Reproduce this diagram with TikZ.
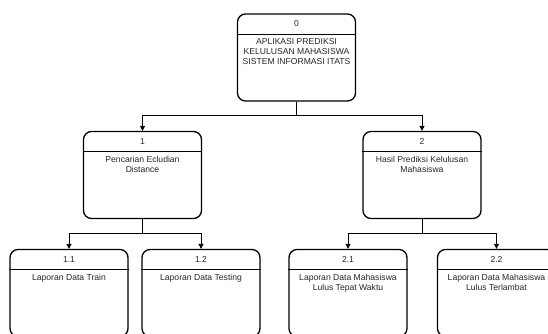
\documentclass[tikz,border=0pt]{standalone}
\usepackage{fontspec}
\setmainfont{Liberation Sans}
\usetikzlibrary{arrows.meta}
\tikzset{
  procbox/.style={draw=black, line width=1.3pt, rounded corners=8pt, minimum width=118pt, minimum height=87pt, inner sep=0pt},
  hdrtext/.style={font=\fontsize{8.6pt}{9.8pt}\selectfont, text=black!85, inner sep=0pt},
  bodytext/.style={font=\fontsize{8.6pt}{9.8pt}\selectfont, text=black!85, align=center, inner sep=0pt, anchor=north},
  conn/.style={draw=black, line width=0.8pt, -{Triangle[length=5pt,width=5pt]}},
  divider/.style={draw=black, line width=0.8pt}
}
\begin{document}
\begin{tikzpicture}[x=1pt,y=-1pt]
\useasboundingbox (0,0) rectangle (548,334);
\clip (0,0) rectangle (548,334);
% boxes
\node[procbox] (p0) at (296.5,57.5) {};
\node[procbox] (p1) at (142.5,175) {};
\node[procbox] (p2) at (422,175) {};
\node[procbox] (p11) at (69,293) {};
\node[procbox] (p12) at (201,293) {};
\node[procbox] (p21) at (348,293) {};
\node[procbox] (p22) at (496.5,293) {};
% dividers and texts
\foreach \n/\h/\b in {p0/0/{APLIKASI PREDIKSI\\KELULUSAN MAHASISWA\\SISTEM INFORMASI ITATS},
                      p1/1/{Pencarian Ecludian\\Distance},
                      p2/2/{Hasil Prediksi Kelulusan\\Mahasiswa},
                      p11/1.1/{Laporan Data Train},
                      p12/1.2/{Laporan Data Testing},
                      p21/2.1/{Laporan Data Mahasiswa\\Lulus Tepat Waktu},
                      p22/2.2/{Laporan Data Mahasiswa\\Lulus Terlambat}}{
  \draw[divider] ([yshift=-21pt]\n.north west) -- ([yshift=-21pt]\n.north east);
  \node[hdrtext] (\n h) at ([yshift=-10.5pt]\n.north) {\h};
  \node[bodytext] (\n b) at ([yshift=-25pt]\n.north) {\b};
}
% connectors
\coordinate (j0) at ([yshift=-14pt]p0.south);
\coordinate (j1) at ([yshift=-14pt]p1.south);
\coordinate (j2) at ([yshift=-14pt]p2.south);
\draw[conn] (p0.south) -- (j0) -| (p1.north);
\draw[conn] (p0.south) -- (j0) -| (p2.north);
\draw[conn] (p1.south) -- (j1) -| (p11.north);
\draw[conn] (p1.south) -- (j1) -| (p12.north);
\draw[conn] (p2.south) -- (j2) -| (p21.north);
\draw[conn] (p2.south) -- (j2) -| (p22.north);
\end{tikzpicture}
\end{document}
